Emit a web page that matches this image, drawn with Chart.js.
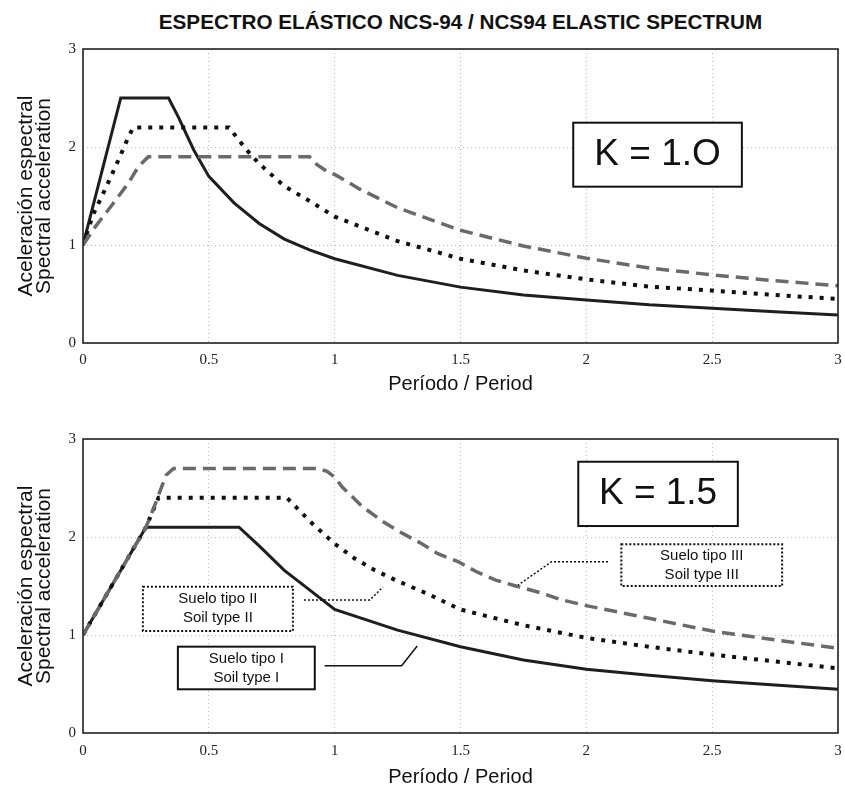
<!DOCTYPE html>
<html>
<head>
<meta charset="utf-8">
<script src="https://cdn.jsdelivr.net/npm/chart.js@4.4.1/dist/chart.umd.min.js"></script>
<style>
  html,body{margin:0;padding:0;background:#fff;}
  body{width:845px;height:789px;position:relative;overflow:hidden;}
  #title{position:absolute;left:83px;width:755px;top:10px;text-align:center;
    font:bold 20.7px "Liberation Sans", Arial, sans-serif;color:#111;}
  .box{position:absolute;left:0;width:845px;}
</style>
</head>
<body>
<div id="title">ESPECTRO ELÁSTICO NCS-94 / NCS94 ELASTIC SPECTRUM</div>
<div class="box" style="top:38px;height:360px;"><canvas id="c1"></canvas></div>
<div class="box" style="top:428px;height:361px;"><canvas id="c2"></canvas></div>
<script>
// ---------- data ----------
const periodTicks = [0, 0.5, 1, 1.5, 2, 2.5, 3];
const periodTickLabels = ['0', '0.5', '1', '1.5', '2', '2.5', '3'];
const accelTicks = [0, 1, 2, 3];
const accelTickLabels = ['0', '1', '2', '3'];

const seriesNames = ['Suelo tipo I / Soil type I', 'Suelo tipo II / Soil type II', 'Suelo tipo III / Soil type III'];

// K = 1.0
const k10_soilI_T = [0, 0.02, 0.15, 0.34, 0.38, 0.44, 0.5, 0.6, 0.7, 0.8, 0.9, 1.0, 1.25, 1.5, 1.75, 2.0, 2.25, 2.5, 2.75, 3.0];
const k10_soilI_A = [1.0, 1.2, 2.5, 2.5, 2.3, 1.97, 1.70, 1.43, 1.22, 1.06, 0.95, 0.86, 0.69, 0.57, 0.49, 0.44, 0.39, 0.355, 0.32, 0.285];
const k10_soilII_T = [0, 0.04, 0.09, 0.15, 0.18, 0.2, 0.58, 0.65, 0.7, 0.8, 0.9, 1.0, 1.25, 1.5, 1.75, 2.0, 2.25, 2.5, 2.75, 3.0];
const k10_soilII_A = [1.0, 1.31, 1.58, 1.92, 2.1, 2.2, 2.2, 1.97, 1.83, 1.60, 1.45, 1.29, 1.04, 0.86, 0.74, 0.65, 0.575, 0.535, 0.49, 0.45];
const k10_soilIII_T = [0, 0.05, 0.11, 0.18, 0.22, 0.26, 0.9, 0.93, 0.97, 1.0, 1.1, 1.25, 1.5, 1.75, 2.0, 2.25, 2.5, 2.75, 3.0];
const k10_soilIII_A = [1.0, 1.19, 1.39, 1.63, 1.8, 1.9, 1.9, 1.82, 1.75, 1.72, 1.57, 1.38, 1.15, 0.99, 0.865, 0.765, 0.695, 0.635, 0.585];

// K = 1.5
const k15_soilI_T = [0, 0.25, 0.62, 0.7, 0.8, 0.9, 1.0, 1.25, 1.5, 1.75, 2.0, 2.25, 2.5, 2.75, 3.0];
const k15_soilI_A = [1.0, 2.1, 2.1, 1.91, 1.66, 1.46, 1.26, 1.05, 0.88, 0.745, 0.65, 0.59, 0.534, 0.49, 0.446];
const k15_soilII_T = [0, 0.25, 0.3, 0.81, 0.86, 0.91, 0.97, 1.0, 1.08, 1.16, 1.25, 1.37, 1.5, 1.64, 1.75, 2.0, 2.25, 2.5, 2.75, 3.0];
const k15_soilII_A = [1.0, 2.1, 2.4, 2.4, 2.27, 2.14, 2.0, 1.93, 1.78, 1.66, 1.55, 1.42, 1.26, 1.17, 1.10, 0.97, 0.88, 0.80, 0.73, 0.66];
const k15_soilIII_T = [0, 0.25, 0.28, 0.305, 0.33, 0.36, 0.93, 0.97, 1.0, 1.03, 1.11, 1.19, 1.26, 1.34, 1.41, 1.49, 1.56, 1.64, 1.72, 1.82, 1.9, 2.0, 2.25, 2.5, 2.75, 3.0];
const k15_soilIII_A = [1.0, 2.1, 2.29, 2.46, 2.63, 2.7, 2.7, 2.67, 2.61, 2.51, 2.31, 2.16, 2.05, 1.94, 1.83, 1.75, 1.65, 1.56, 1.50, 1.43, 1.36, 1.30, 1.17, 1.04, 0.95, 0.865];

// ---------- helpers ----------
const pts = (T, A) => T.map((t, i) => ({x: t, y: A[i]}));
const SANS = '"Liberation Sans", Arial, Helvetica, sans-serif';
const SERIF = '"Liberation Serif", "Times New Roman", serif';

function datasets(I, II, III) {
  return [
    {label: seriesNames[2], data: III, borderColor: '#6a6a6a', borderWidth: 3.5, borderDash: [13, 7], pointRadius: 0, tension: 0, fill: false},
    {label: seriesNames[1], data: II, borderColor: '#111', borderWidth: 4, borderDash: [4, 7], pointRadius: 0, tension: 0, fill: false},
    {label: seriesNames[0], data: I, borderColor: '#1e1e1e', borderWidth: 3, pointRadius: 0, tension: 0, fill: false}
  ];
}

function notesPlugin(notes) {
  return {
    id: 'notes',
    afterDatasetsDraw(chart) {
      const {ctx, chartArea: a, scales: {x, y}} = chart;
      ctx.save();
      // frame
      ctx.strokeStyle = '#222';
      ctx.lineWidth = 1.6;
      ctx.setLineDash([]);
      ctx.strokeRect(a.left, a.top, a.right - a.left, a.bottom - a.top);
      for (const n of notes) {
        ctx.setLineDash(n.dash || []);
        ctx.strokeStyle = '#111';
        if (n.type === 'line') {
          ctx.lineWidth = n.width || 1.5;
          ctx.beginPath();
          n.path.forEach((p, i) => {
            const px = x.getPixelForValue(p[0]), py = y.getPixelForValue(p[1]);
            i ? ctx.lineTo(px, py) : ctx.moveTo(px, py);
          });
          ctx.stroke();
        } else {
          const x0 = x.getPixelForValue(n.x0), x1 = x.getPixelForValue(n.x1);
          const y0 = y.getPixelForValue(n.y0), y1 = y.getPixelForValue(n.y1);
          ctx.fillStyle = '#fff';
          ctx.fillRect(x0, y0, x1 - x0, y1 - y0);
          ctx.lineWidth = n.width || 2;
          ctx.strokeRect(x0, y0, x1 - x0, y1 - y0);
          ctx.setLineDash([]);
          ctx.fillStyle = '#111';
          ctx.font = n.font;
          ctx.textAlign = 'center';
          ctx.textBaseline = 'middle';
          const cx = (x0 + x1) / 2, cy = (y0 + y1) / 2;
          const lh = n.lh || 0;
          n.text.forEach((t, i) => {
            ctx.fillText(t, cx, cy + (i - (n.text.length - 1) / 2) * lh);
          });
        }
      }
      ctx.restore();
    }
  };
}

function makeChart(id, dsets, notes, lay) {
  return new Chart(document.getElementById(id), {
    type: 'line',
    data: {datasets: dsets},
    options: {
      responsive: true,
      maintainAspectRatio: false,
      animation: false,
      events: [],
      layout: {padding: {top: 11, right: 7, left: 0, bottom: 0}},
      plugins: {legend: {display: false}, tooltip: {enabled: false}, title: {display: false}},
      scales: {
        x: {
          type: 'linear', min: 0, max: 3,
          afterBuildTicks: s => { s.ticks = periodTicks.map(v => ({value: v})); },
          afterFit: s => { s.height = lay.h; s.paddingLeft = 0; s.paddingRight = 0; },
          ticks: {callback: (v, i) => periodTickLabels[i], font: {family: SERIF, size: 15}, color: '#222', padding: lay.tp, maxRotation: 0},
          grid: {color: '#bdbdbd', lineWidth: 1, drawTicks: false},
          border: {display: false, dash: [1, 3]},
          title: {display: true, text: 'Período / Period', font: {family: SANS, size: 20}, color: '#111', padding: {top: 0, bottom: lay.pb}}
        },
        y: {
          type: 'linear', min: 0, max: 3,
          afterBuildTicks: s => { s.ticks = accelTicks.map(v => ({value: v})); },
          afterFit: s => { s.width = 83; s.paddingTop = 0; s.paddingBottom = 0; },
          ticks: {callback: (v, i) => accelTickLabels[i], font: {family: SERIF, size: 15}, color: '#222', padding: 7},
          grid: {color: '#bdbdbd', lineWidth: 1, drawTicks: false},
          border: {display: false, dash: [1, 3]},
          title: {display: true, text: ['Aceleración espectral', 'Spectral acceleration'], font: {family: SANS, size: 21, lineHeight: 0.82}, color: '#111', padding: {top: 18, bottom: 0}}
        }
      }
    },
    plugins: [notesPlugin(notes)]
  });
}

// ---------- annotations (text boxes and leader lines) ----------
const notes1 = [
  {type: 'box', x0: 1.948, x1: 2.618, y0: 2.248, y1: 1.595, font: '37px ' + SANS, text: ['K = 1.O'], width: 2}
];
const notes2 = [
  {type: 'box', x0: 1.968, x1: 2.602, y0: 2.768, y1: 2.112, font: '37px ' + SANS, text: ['K = 1.5'], width: 2},
  {type: 'line', path: [[0.878, 1.357], [1.140, 1.357], [1.192, 1.49]], dash: [2, 2], width: 1.5},
  {type: 'box', x0: 0.238, x1: 0.834, y0: 1.493, y1: 1.041, font: '15px ' + SANS, text: ['Suelo tipo II', 'Soil type II'], lh: 19, dash: [2, 2], width: 2},
  {type: 'line', path: [[0.960, 0.687], [1.266, 0.687], [1.328, 0.888]], width: 1.5},
  {type: 'box', x0: 0.377, x1: 0.921, y0: 0.881, y1: 0.446, font: '15px ' + SANS, text: ['Suelo tipo I', 'Soil type I'], lh: 19, width: 2},
  {type: 'line', path: [[2.086, 1.748], [1.862, 1.748], [1.729, 1.510]], dash: [2, 2], width: 1.5},
  {type: 'box', x0: 2.139, x1: 2.778, y0: 1.926, y1: 1.5, font: '15px ' + SANS, text: ['Suelo tipo III', 'Soil type III'], lh: 19, dash: [2, 2], width: 2}
];

makeChart('c1', datasets(pts(k10_soilI_T, k10_soilI_A), pts(k10_soilII_T, k10_soilII_A), pts(k10_soilIII_T, k10_soilIII_A)), notes1, {h: 55, pb: 2, tp: 8});
makeChart('c2', datasets(pts(k15_soilI_T, k15_soilI_A), pts(k15_soilII_T, k15_soilII_A), pts(k15_soilIII_T, k15_soilIII_A)), notes2, {h: 56, pb: 0, tp: 9});
</script>
</body>
</html>
